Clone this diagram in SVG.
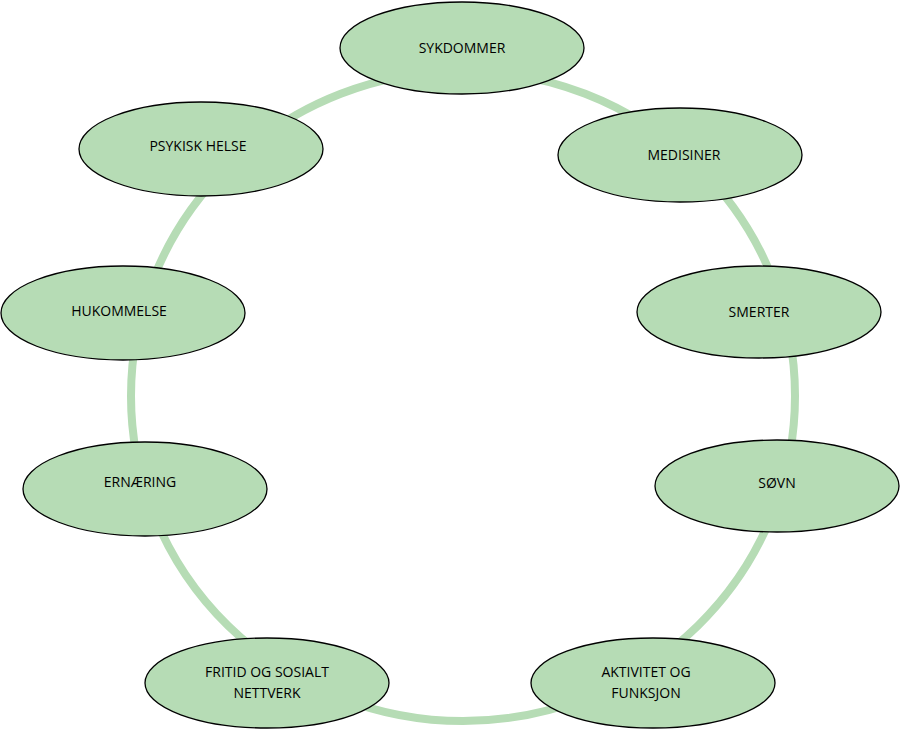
<svg xmlns="http://www.w3.org/2000/svg" width="900" height="730" viewBox="0 0 900 730">
<style>
.n ellipse{fill:#b6dcb5;stroke:#000;stroke-width:1.3}
.n text{font-family:"Open Sans","Liberation Sans",sans-serif;font-size:14px;fill:#000;text-anchor:middle}
</style>
<rect width="900" height="730" fill="#fff"/>
<g id="connectors"><ellipse cx="463" cy="396" rx="332" ry="325" fill="none" stroke="#b6dcb5" stroke-width="8"/></g>
<g id="n1" class="n"><ellipse cx="462" cy="48" rx="122" ry="46"/><text x="462" y="53">SYKDOMMER</text></g>
<g id="n2" class="n"><ellipse cx="680" cy="155" rx="122" ry="47"/><text x="684" y="160">MEDISINER</text></g>
<g id="n3" class="n"><ellipse cx="759" cy="312" rx="122" ry="46"/><text x="759" y="317">SMERTER</text></g>
<g id="n4" class="n"><ellipse cx="777" cy="486" rx="122" ry="46"/><text x="777" y="488">SØVN</text></g>
<g id="n5" class="n"><ellipse cx="653" cy="683" rx="122" ry="45"/><text x="646" y="677">AKTIVITET OG</text><text x="646" y="698">FUNKSJON</text></g>
<g id="n6" class="n"><ellipse cx="267" cy="683" rx="122" ry="45"/><text x="267" y="677">FRITID OG SOSIALT</text><text x="267" y="698">NETTVERK</text></g>
<g id="n7" class="n"><ellipse cx="145" cy="489" rx="122" ry="47"/><text x="140" y="487">ERNÆRING</text></g>
<g id="n8" class="n"><ellipse cx="123" cy="313" rx="122" ry="47"/><text x="119" y="316">HUKOMMELSE</text></g>
<g id="n9" class="n"><ellipse cx="201" cy="149" rx="122" ry="47"/><text x="198" y="151">PSYKISK HELSE</text></g>
</svg>
